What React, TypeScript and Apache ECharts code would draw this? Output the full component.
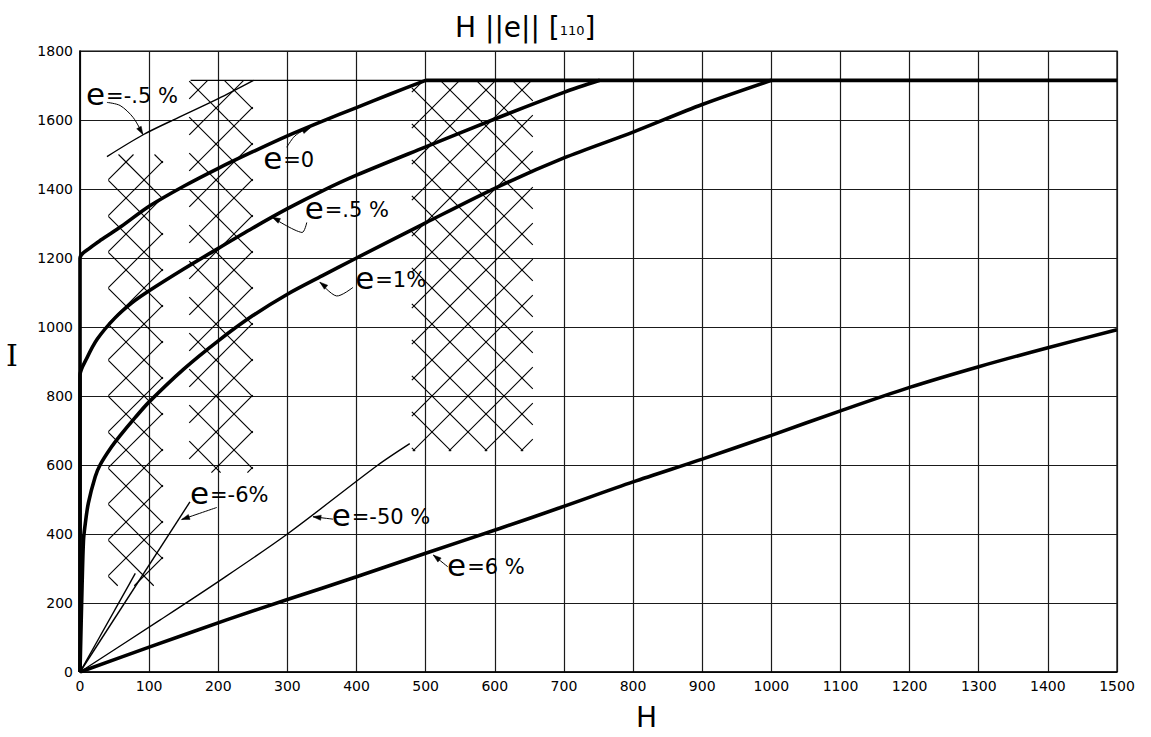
import React, { useEffect, useRef } from "react";
import * as echarts from "echarts";

// ---- axes ----
const H_MIN = 0;
const H_MAX = 1500;
const H_STEP = 100;
const I_MIN = 0;
const I_MAX = 1800;
const I_STEP = 200;

// ---- curves [H, I] ----
const curveE0 = [[0, 0], [0, 1200], [15, 1230], [30, 1252], [60, 1292], [100, 1350], [150, 1408], [200, 1460], [250, 1508], [300, 1554], [350, 1596], [400, 1636], [450, 1676], [500, 1715]];
const curveE05 = [[0, 0], [0, 860], [10, 910], [25, 965], [50, 1025], [75, 1070], [100, 1105], [150, 1168], [200, 1228], [250, 1287], [300, 1343], [350, 1394], [400, 1440], [500, 1522], [600, 1603], [700, 1680], [752, 1715]];
const curveE1 = [[0, 0], [3, 250], [5, 380], [7, 420], [12, 489], [22, 566], [29, 600], [43, 645], [58, 685], [80, 738], [100, 783], [150, 878], [200, 960], [250, 1033], [300, 1095], [350, 1148], [400, 1200], [500, 1302], [600, 1402], [700, 1490], [800, 1565], [900, 1645], [1000, 1715]];
const curveE6 = [[0, 0], [100, 72], [212, 151], [300, 210], [400, 276], [500, 344], [607, 416], [694, 476], [800, 551], [900, 617], [1000, 686], [1100, 757], [1200, 825], [1300, 885], [1400, 940], [1500, 992]];
const curveEm05 = [[39, 1494], [92, 1558], [140, 1605], [200, 1662], [251, 1715]];
const curveEm6 = [[0, 0], [159, 493]];
const curveEm6b = [[0, 0], [80, 286]];
const curveEm50 = [[0, 0], [116, 151], [200, 262], [300, 400], [431, 600], [477, 662]];
const saturationThin = [[160, 1715], [500, 1715]];
const saturationThick = [[500, 1715], [1500, 1715]];

// ---- cross-hatched bands [Hmin, Hmax, Imin, Imax] ----
const hatchBands = [[41, 120, 250, 1500], [158, 250, 578, 1715], [480, 655, 640, 1715]];

// ---- annotations ----
const labelE = ["e", "e", "e", "e", "e", "e", "e"];
const labelRest = ["=-.5 %", "=0", "=.5 %", "=1%", "=-6%", "=-50 %", "=6 %"];
const labelAnchors = [[8.7, 1674], [265, 1491], [325, 1344], [398, 1141], [159, 518], [364, 455], [531, 310]];
const arrowPaths = [
  [[39, 1651], [58, 1642], [77, 1607], [91, 1558]],
  [[299, 1521], [309, 1550], [318, 1564], [333, 1577]],
  [[328, 1303], [321, 1274], [278, 1318]],
  [[395, 1115], [371, 1090], [347, 1130]],
  [[198, 477], [147, 442]],
  [[366, 443], [337, 450]],
  [[532, 305], [511, 339]],
];

const FONT = "DejaVu Sans";

export default function App() {
  const ref = useRef<HTMLDivElement>(null);
  useEffect(() => {
    if (!ref.current) return;
    const chart = echarts.init(ref.current, null, { renderer: "svg" });

    const thick = (name: string, data: number[][], smooth = 0.3) => ({
      name, type: "line", data, symbol: "none", silent: true, smooth,
      lineStyle: { color: "#000", width: 3.6 }, z: 5,
    });
    const thin = (name: string, data: number[][], smooth = 0.3) => ({
      name, type: "line", data, symbol: "none", silent: true, smooth,
      lineStyle: { color: "#000", width: 1.4 }, z: 5,
    });

    const hatchRender = (params: any, api: any) => {
      const h0 = api.value(0), h1 = api.value(1), i0 = api.value(2), i1 = api.value(3);
      const p0 = api.coord([h0, i1]);
      const p1 = api.coord([h1, i0]);
      const x0 = p0[0], y0 = p0[1], x1 = p1[0], y1 = p1[1];
      const d = 36;
      const children: any[] = [];
      const st = { stroke: "#000", lineWidth: 1.1 };
      for (let c = Math.floor((y0 - x1) / d) * d; c <= y1 - x0; c += d) {
        const xa = Math.max(x0, y0 - c), xb = Math.min(x1, y1 - c);
        if (xb > xa) children.push({ type: "line", shape: { x1: xa, y1: xa + c, x2: xb, y2: xb + c }, style: st });
      }
      for (let c = Math.floor((x0 + y0) / d) * d; c <= x1 + y1; c += d) {
        const xa = Math.max(x0, c - y1), xb = Math.min(x1, c - y0);
        if (xb > xa) children.push({ type: "line", shape: { x1: xa, y1: c - xa, x2: xb, y2: c - xb }, style: st });
      }
      return { type: "group", children };
    };

    const annRender = (params: any, api: any) => {
      const idx = params.dataIndex;
      const a = api.coord(labelAnchors[idx]);
      const pts = arrowPaths[idx].map((p) => api.coord(p));
      const n = pts.length;
      const tip = pts[n - 1], prev = pts[n - 2];
      const dx = tip[0] - prev[0], dy = tip[1] - prev[1];
      const len = Math.sqrt(dx * dx + dy * dy) || 1;
      const ux = dx / len, uy = dy / len;
      const L = 8, W = 2.6;
      const bx = tip[0] - ux * L, by = tip[1] - uy * L;
      return {
        type: "group",
        children: [
          {
            type: "text",
            x: a[0], y: a[1],
            style: {
              text: "{e|" + labelE[idx] + "}{r|" + labelRest[idx] + "}",
              rich: {
                e: { fontSize: 31, fontFamily: FONT, fill: "#000" },
                r: { fontSize: 21, fontFamily: FONT, fill: "#000", padding: [4, 0, 0, 1] },
              },
              fill: "#000",
              align: "left", verticalAlign: "middle",
              textAlign: "left", textVerticalAlign: "middle",
            },
          },
          { type: "polyline", shape: { points: pts, smooth: 0.3 }, style: { stroke: "#000", lineWidth: 1, fill: "none" } },
          {
            type: "polygon",
            shape: { points: [tip, [bx - uy * W, by + ux * W], [bx + uy * W, by - ux * W]] },
            style: { fill: "#000", stroke: "#000", lineWidth: 0.5 },
          },
        ],
      };
    };

    const plain = (v: number) => String(v);

    chart.setOption({
      animation: false,
      backgroundColor: "#fff",
      title: {
        text: "{a|H ||e|| [}{b|110}{a|]}",
        left: 450, top: 8,
        textStyle: {
          rich: {
            a: { fontSize: 28, fontFamily: FONT, fontWeight: "normal", color: "#000" },
            b: { fontSize: 13, fontFamily: FONT, fontWeight: "normal", color: "#000", padding: [7, 0, 0, 0] },
          },
        },
      },
      grid: { left: 80, right: 34, top: 51, bottom: 65, show: true, borderColor: "#000", borderWidth: 1.2 },
      xAxis: {
        type: "value", min: H_MIN, max: H_MAX, interval: H_STEP,
        axisLine: { show: true, lineStyle: { color: "#000", width: 1.5 } },
        axisTick: { show: false },
        axisLabel: { color: "#000", fontSize: 14, fontFamily: FONT, margin: 7, formatter: plain },
        splitLine: { show: true, lineStyle: { color: "#1a1a1a", width: 1.2 } },
      },
      yAxis: {
        type: "value", min: I_MIN, max: I_MAX, interval: I_STEP,
        axisLine: { show: true, lineStyle: { color: "#000", width: 1.5 } },
        axisTick: { show: false },
        axisLabel: { color: "#000", fontSize: 14, fontFamily: FONT, margin: 7, formatter: plain },
        splitLine: { show: true, lineStyle: { color: "#1a1a1a", width: 1.2 } },
      },
      graphic: [
        { type: "text", left: 636, top: 703, style: { text: "H", font: "28px " + FONT, fill: "#000" } },
        { type: "text", left: 6, top: 340, style: { text: "I", font: "30px 'DejaVu Serif'", fill: "#000" } },
      ],
      series: [
        {
          type: "custom", name: "hatch", data: hatchBands, renderItem: hatchRender,
          encode: { x: [0, 1], y: [2, 3] }, silent: true, z: 3,
        },
        thin("saturation", saturationThin, 0),
        thick("saturation thick", saturationThick, 0),
        thick("e=0", curveE0),
        thick("e=.5%", curveE05),
        thick("e=1%", curveE1),
        thick("e=6%", curveE6),
        thin("e=-.5%", curveEm05),
        thin("e=-6%", curveEm6),
        thin("e=-6% b", curveEm6b),
        thin("e=-50%", curveEm50),
        {
          type: "custom", name: "labels",
          data: labelAnchors.map((p, i) => [p[0], p[1], i]),
          renderItem: annRender, encode: { x: 0, y: 1 }, silent: true, clip: false, z: 10,
        },
      ],
    });
    return () => chart.dispose();
  }, []);
  return <div ref={ref} style={{ position: "fixed", left: 0, top: 0, width: 1151, height: 737 }} />;
}
